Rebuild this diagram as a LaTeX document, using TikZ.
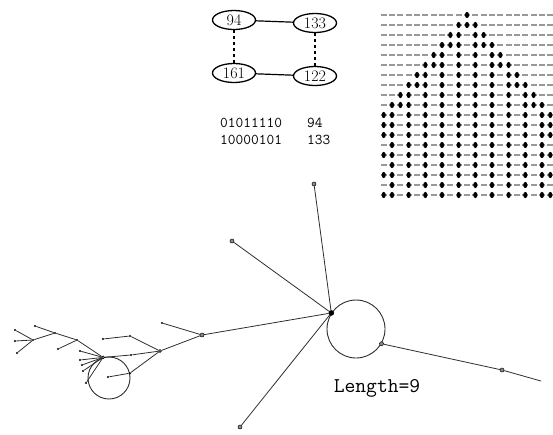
\documentclass[tikz,border=0pt]{standalone}
\usetikzlibrary{shapes.geometric,positioning}
\definecolor{InkGray}{HTML}{2E2E2E}
\definecolor{DotGray}{HTML}{8A8A8A}

\begin{document}
\begin{tikzpicture}[
  x=1pt, y=-1pt,
  state/.style={draw,ellipse,line width=1.3pt,minimum width=43pt,minimum height=19pt,inner sep=0pt,font=\fontsize{16}{17}\selectfont},
  vtx/.style={circle,draw=black,fill=DotGray,inner sep=0pt,minimum size=4pt,line width=0.5pt},
  hubvtx/.style={vtx,fill=black,minimum size=5pt},
  leaf/.style={circle,fill=black,inner sep=0pt,minimum size=2.4pt},
  edge/.style={line width=0.8pt,InkGray},
  attractor/.style={draw,circle,line width=0.9pt,InkGray,inner sep=0pt},
  binary/.style={anchor=west,inner sep=0pt,font=\ttfamily\fontsize{15}{16}\selectfont},
  celldash/.style={line width=1.6pt,gray!80}
]
  \useasboundingbox (0,0) rectangle (553,434);

  \node[state] (s94) at (234,20) {94};
  \node[state] (s133) at (315,23) {133};
  \node[state] (s161) at (234,73) {161};
  \node[state] (s122) at (315,76) {122};
  \draw[line width=1.2pt] (s94) -- (s133);
  \draw[line width=1.2pt] (s161) -- (s122);
  \draw[line width=1.4pt,dashed] (s94) -- (s161);
  \draw[line width=1.4pt,dashed] (s133) -- (s122);

  \node[binary] (bin1) at (220,123) {01011110};
  \node[binary] (val1) at (307,123) {94};
  \node[binary] (bin2) at (220,140) {10000101};
  \node[binary] (val2) at (307,140) {133};

  \foreach \r in {0,...,18}{
    \foreach \c in {-10,...,10}{
      \draw[celldash] (467+8.33*\c-2.9,15+10*\r) -- ++(5.8,0);
      \pgfmathtruncatemacro\a{abs(\c)}
      \pgfmathtruncatemacro\on{(\a<=\r)*((\a==\r)||(\a==\r-1)||(mod(\a,2)==1)) + (\r>=12)*(\a==10)*(mod(\r,2)==0)}
      \ifnum\on>0 \fill[black] (467+8.33*\c,15+10*\r) ellipse (2.1 and 3.1); \fi
    }
  }

  \node[attractor,minimum size=58pt] (cyc) at (356,329) {};
  \node[hubvtx] (hub) at (cyc.147) {};
  \node[vtx] (top) at (314,184) {};
  \node[vtx] (upl) at (232,241) {};
  \node[vtx] (bot) at (240,427) {};
  \node[vtx] (jn) at (202,335) {};
  \node[vtx] (rn) at (cyc.-30) {};
  \node[vtx] (tail) at (502,370) {};
  \coordinate (tailend) at (541,381);
  \draw[edge] (top) -- (hub);
  \draw[edge] (upl) -- (hub);
  \draw[edge] (jn) -- (hub);
  \draw[edge] (bot) -- (hub);
  \draw[edge] (rn) -- (tail) -- (tailend);

  \node[font=\ttfamily\fontsize{21}{23}\selectfont] (len) at (377,388) {Length=9};

  \node[attractor,minimum size=42pt] (cyc2) at (109,378) {};
  \node[vtx,minimum size=3pt] (sh) at (cyc2.106) {};
  \node[leaf] (m3) at (cyc2.13) {};
  \node[leaf] (lf3) at (108,377) {};
  \node[leaf] (lf1) at (162,323) {};
  \node[vtx,minimum size=3pt] (kn) at (160,351) {};
  \node[leaf] (m1) at (130,336) {};
  \node[leaf] (lf2) at (103,339) {};
  \node[leaf] (m2) at (131,355) {};
  \draw[edge] (jn) -- (lf1);
  \draw[edge] (jn) -- (kn);
  \draw[edge] (kn) -- (m1) -- (lf2);
  \draw[edge] (kn) -- (m2) -- (sh);
  \draw[edge] (kn) -- (m3) -- (lf3);

  \foreach \n/\p in {s1/{(80,351)},s2/{(80,360)},s3/{(82,365)},s4/{(83,371)},s5/{(86,383)}}{
    \node[leaf] (\n) at \p {};
    \draw[edge] (sh) -- (\n);
  }
  \node[leaf] (pn) at (77,340) {};
  \node[leaf] (pl) at (58,349) {};
  \node[leaf] (qn) at (55,333) {};
  \node[leaf] (ql) at (35,326) {};
  \node[leaf] (rj) at (33,340) {};
  \draw[edge] (sh) -- (pn) -- (qn) -- (ql);
  \draw[edge] (pn) -- (pl);
  \draw[edge] (qn) -- (rj);
  \foreach \n/\p in {r1/{(15,330)},r2/{(15,341)},r3/{(17,353)}}{
    \node[leaf] (\n) at \p {};
    \draw[edge] (rj) -- (\n);
  }
\end{tikzpicture}
\end{document}
